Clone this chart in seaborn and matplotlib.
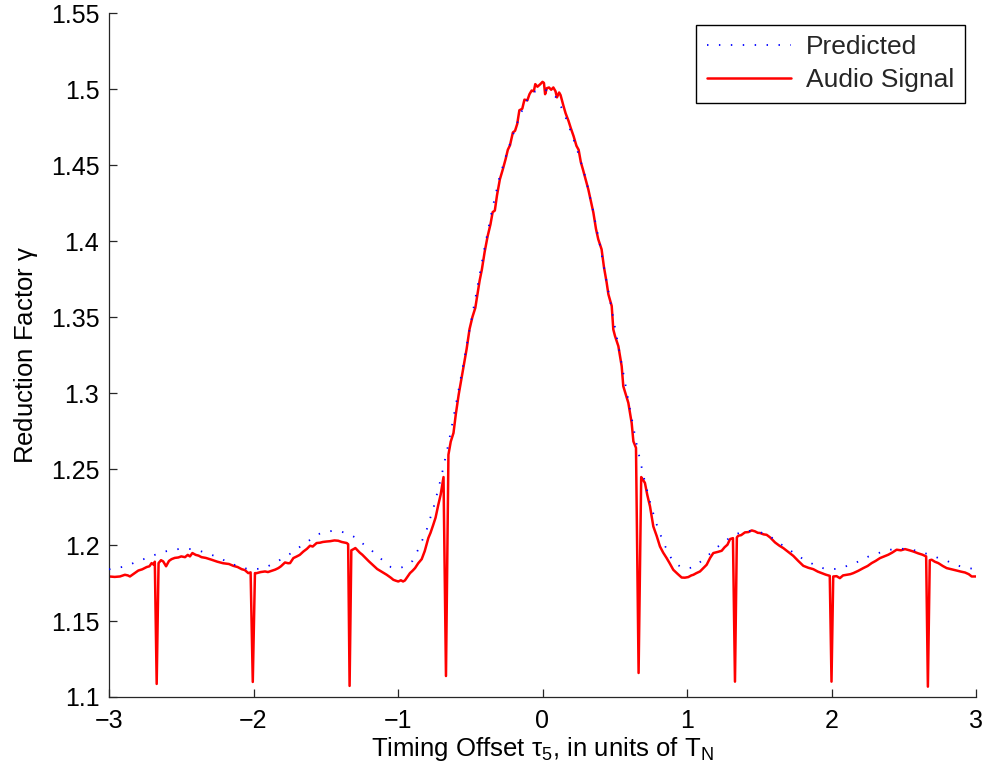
import numpy as np
import pandas as pd
import matplotlib
matplotlib.use("Agg")
import matplotlib.pyplot as plt
import seaborn as sns

# ---------------- data ----------------
pred_x = [round(-3 + 0.05 * i, 2) for i in range(121)]
pred_y = [
    1.184, 1.1848, 1.1857, 1.1873, 1.1895, 1.191, 1.193, 1.1945, 1.196, 1.197,
    1.1975, 1.1975, 1.1968, 1.1955, 1.1938, 1.1922, 1.1898, 1.1875, 1.186, 1.1845,
    1.184, 1.1845, 1.186, 1.1885, 1.191, 1.194, 1.1975, 1.2005, 1.204, 1.2072,
    1.2085, 1.2094, 1.209, 1.2075, 1.2052, 1.2013, 1.198, 1.1935, 1.1895, 1.1855,
    1.1845, 1.186, 1.1895, 1.199, 1.2105, 1.226, 1.245, 1.267, 1.292, 1.318,
    1.344, 1.370, 1.396, 1.420, 1.441, 1.457, 1.471, 1.484, 1.494, 1.4985,
    1.500,
    1.4985, 1.494, 1.484, 1.471, 1.457, 1.441, 1.420, 1.396, 1.370, 1.344,
    1.318, 1.292, 1.267, 1.245, 1.226, 1.2105, 1.199, 1.1895, 1.186, 1.1845,
    1.1855, 1.1895, 1.1935, 1.198, 1.2013, 1.2052, 1.2075, 1.209, 1.2094, 1.2085,
    1.2072, 1.204, 1.2005, 1.1975, 1.194, 1.191, 1.1885, 1.186, 1.1845, 1.184,
    1.1845, 1.186, 1.1875, 1.1898, 1.1922, 1.1938, 1.1955, 1.1968, 1.1975, 1.1975,
    1.197, 1.196, 1.1945, 1.193, 1.191, 1.1895, 1.1873, 1.1857, 1.1848, 1.184,
]

audio_x = [
    -3.000, -2.960, -2.924, -2.890, -2.870, -2.855, -2.830, -2.797, -2.770, -2.739,
    -2.720, -2.705, -2.690, -2.683, -2.670, -2.657, -2.640, -2.625, -2.605, -2.585,
    -2.567, -2.545, -2.520, -2.500, -2.474, -2.455, -2.440, -2.423, -2.400, -2.380,
    -2.360, -2.330, -2.290, -2.250, -2.210, -2.170, -2.140, -2.110, -2.082, -2.060,
    -2.036, -2.020, -2.005, -1.990, -1.978, -1.950, -1.920, -1.900, -1.874, -1.850,
    -1.828, -1.810, -1.782, -1.760, -1.747, -1.724, -1.700, -1.680, -1.655, -1.630,
    -1.609, -1.590, -1.563, -1.540, -1.520, -1.494, -1.470, -1.440, -1.414, -1.390,
    -1.355, -1.345, -1.335, -1.323, -1.309, -1.295, -1.280, -1.265, -1.247, -1.225,
    -1.201, -1.170, -1.144, -1.110, -1.078, -1.050, -1.032, -1.015, -0.998, -0.980,
    -0.965, -0.952, -0.935, -0.917, -0.900, -0.882, -0.860, -0.836, -0.815, -0.790,
    -0.775, -0.756, -0.740, -0.721, -0.705, -0.685, -0.668, -0.651, -0.635, -0.616,
    -0.600, -0.580, -0.560, -0.545, -0.525, -0.505, -0.485, -0.465, -0.450, -0.435,
    -0.420, -0.400, -0.380, -0.360, -0.345, -0.330, -0.315, -0.295, -0.275, -0.255,
    -0.240, -0.225, -0.205, -0.190, -0.175, -0.160, -0.140, -0.125, -0.105, -0.090,
    -0.075, -0.060, -0.050, -0.035, -0.015, 0.000, 0.010, 0.018, 0.030, 0.045,
    0.060, 0.075, 0.090, 0.100, 0.115, 0.125, 0.145, 0.160, 0.180, 0.195,
    0.215, 0.235, 0.250, 0.265, 0.280, 0.300, 0.317, 0.335, 0.352, 0.370,
    0.386, 0.409, 0.425, 0.444, 0.456, 0.479, 0.490, 0.502, 0.525, 0.548,
    0.559, 0.594, 0.617, 0.629, 0.647, 0.665, 0.683, 0.695, 0.709, 0.725,
    0.744, 0.767, 0.790, 0.813, 0.835, 0.859, 0.880, 0.905, 0.935, 0.963,
    0.985, 1.009, 1.030, 1.044, 1.065, 1.090, 1.110, 1.136, 1.160, 1.182,
    1.215, 1.240, 1.260, 1.280, 1.298, 1.318, 1.332, 1.345, 1.355, 1.375,
    1.401, 1.425, 1.448, 1.470, 1.490, 1.505, 1.530, 1.551, 1.575, 1.609,
    1.640, 1.666, 1.700, 1.735, 1.770, 1.805, 1.840, 1.874, 1.905, 1.932,
    1.960, 1.988, 2.000, 2.012, 2.035, 2.058, 2.080, 2.105, 2.130, 2.151,
    2.185, 2.220, 2.250, 2.278, 2.305, 2.336, 2.365, 2.393, 2.420, 2.451,
    2.480, 2.509, 2.540, 2.567, 2.600, 2.630, 2.655, 2.667, 2.680, 2.693,
    2.715, 2.739, 2.770, 2.797, 2.830, 2.866, 2.895, 2.924, 2.950, 2.970,
    3.000,
]
audio_y = [
    1.1793, 1.1790, 1.1793, 1.1804, 1.1800, 1.1793, 1.1810, 1.1832, 1.1840, 1.1855,
    1.1860, 1.1881, 1.1870, 1.1890, 1.1086, 1.1881, 1.1900, 1.1892, 1.1860, 1.1895,
    1.1907, 1.1915, 1.1918, 1.1925, 1.1920, 1.1935, 1.1925, 1.1947, 1.1935, 1.1930,
    1.1920, 1.1915, 1.1903, 1.1890, 1.1880, 1.1875, 1.1863, 1.1855, 1.1841, 1.1835,
    1.1815, 1.1820, 1.1099, 1.1815, 1.1815, 1.1822, 1.1826, 1.1822, 1.1830, 1.1838,
    1.1848, 1.1860, 1.1885, 1.1880, 1.1881, 1.1914, 1.1925, 1.1935, 1.1957, 1.1975,
    1.1995, 1.1990, 1.2013, 1.2015, 1.2020, 1.2023, 1.2025, 1.2030, 1.2028, 1.2020,
    1.2013, 1.2005, 1.1073, 1.1965, 1.1972, 1.1980, 1.1965, 1.1950, 1.1936, 1.1915,
    1.1892, 1.1865, 1.1842, 1.1822, 1.1804, 1.1785, 1.1771, 1.1765, 1.1760, 1.1768,
    1.1760, 1.1767, 1.1790, 1.1815, 1.1830, 1.1848, 1.1880, 1.1907, 1.1960, 1.2046,
    1.2080, 1.2133, 1.2180, 1.2265, 1.2330, 1.2447, 1.1138, 1.2594, 1.2680, 1.2737,
    1.2860, 1.2990, 1.3100, 1.3185, 1.3290, 1.3420, 1.3500, 1.3560, 1.3650, 1.3740,
    1.3810, 1.3930, 1.4030, 1.4110, 1.4190, 1.4200, 1.4300, 1.4406, 1.4470, 1.4540,
    1.4600, 1.4630, 1.4714, 1.4725, 1.4770, 1.4860, 1.4870, 1.4930, 1.4925, 1.4966,
    1.4990, 1.4985, 1.5032, 1.5015, 1.5032, 1.5047, 1.5040, 1.4966, 1.5005, 1.5010,
    1.4995, 1.5010, 1.4985, 1.4945, 1.4977, 1.4960, 1.4889, 1.4840, 1.4790, 1.4745,
    1.4690, 1.4626, 1.4600, 1.4520, 1.4470, 1.4400, 1.4340, 1.4260, 1.4187, 1.4080,
    1.4011, 1.3945, 1.3830, 1.3726, 1.3649, 1.3572, 1.3418, 1.3374, 1.3308, 1.3176,
    1.3045, 1.2935, 1.2803, 1.2682, 1.2639, 1.1158, 1.2447, 1.2430, 1.2408, 1.2330,
    1.2254, 1.2122, 1.2060, 1.1990, 1.1950, 1.1914, 1.1880, 1.1837, 1.1810, 1.1786,
    1.1785, 1.1789, 1.1800, 1.1804, 1.1815, 1.1826, 1.1845, 1.1870, 1.1915, 1.1947,
    1.1955, 1.1962, 1.1985, 1.2002, 1.2039, 1.2045, 1.1101, 1.2050, 1.2061, 1.2065,
    1.2083, 1.2085, 1.2096, 1.2090, 1.2080, 1.2079, 1.2070, 1.2067, 1.2050, 1.2017,
    1.1995, 1.1980, 1.1955, 1.1929, 1.1895, 1.1863, 1.1850, 1.1841, 1.1825, 1.1815,
    1.1805, 1.1797, 1.1101, 1.1793, 1.1795, 1.1782, 1.1800, 1.1804, 1.1808, 1.1815,
    1.1830, 1.1848, 1.1862, 1.1881, 1.1895, 1.1914, 1.1925, 1.1936, 1.1950, 1.1969,
    1.1965, 1.1973, 1.1965, 1.1957, 1.1945, 1.1936, 1.1925, 1.1068, 1.1900, 1.1903,
    1.1890, 1.1881, 1.1862, 1.1848, 1.1840, 1.1832, 1.1825, 1.1819, 1.1808, 1.1793,
    1.1793,
]

x_ticks = [-3, -2, -1, 0, 1, 2, 3]
x_tick_labels = ["\u22123", "\u22122", "\u22121", "0", "1", "2", "3"]
y_ticks = [1.1, 1.15, 1.2, 1.25, 1.3, 1.35, 1.4, 1.45, 1.5, 1.55]
y_tick_labels = ["1.1", "1.15", "1.2", "1.25", "1.3", "1.35", "1.4", "1.45", "1.5", "1.55"]

series_names = ["Predicted", "Audio Signal"]
x_label = r"Timing Offset $\mathregular{\tau_5}$, in units of $\mathregular{T_N}$"
y_label = r"Reduction Factor $\mathregular{\gamma}$"

# ---------------- style ----------------
sns.set_theme(style="white")
plt.rcParams["font.family"] = ["Liberation Sans", "DejaVu Sans"]
plt.rcParams["mathtext.fontset"] = "custom"
plt.rcParams["mathtext.rm"] = "Liberation Sans"
plt.rcParams["mathtext.it"] = "Liberation Sans:italic"
plt.rcParams["axes.unicode_minus"] = True

FS = 18

fig = plt.figure(figsize=(9.86, 7.78), dpi=100)
ax = fig.add_axes([109 / 986, 81 / 778, 867 / 986, 684 / 778])

pred_df = pd.DataFrame({"x": pred_x, "y": pred_y})
audio_df = pd.DataFrame({"x": audio_x, "y": audio_y})

sns.lineplot(data=audio_df, x="x", y="y", ax=ax, color="#ff0000", linewidth=1.8,
             estimator=None, sort=False, label=series_names[1], zorder=2)
sns.lineplot(data=pred_df, x="x", y="y", ax=ax, color="#0000ff", linewidth=1.3,
             linestyle=(0, (0.8, 5.8)), estimator=None, sort=False,
             label=series_names[0], zorder=3)

ax.set_xlim(-3, 3)
ax.set_ylim(1.1, 1.55)
ax.set_xticks(x_ticks)
ax.set_xticklabels(x_tick_labels)
ax.set_yticks(y_ticks)
ax.set_yticklabels(y_tick_labels)

for s in ["top", "right"]:
    ax.spines[s].set_visible(False)
for s in ["left", "bottom"]:
    ax.spines[s].set_color("#262626")
    ax.spines[s].set_linewidth(0.9)

ax.tick_params(axis="both", which="major", direction="in", length=6, width=0.9,
               color="#262626", labelsize=FS, labelcolor="black", pad=7,
               bottom=True, left=True, top=False, right=False)
ax.tick_params(axis="x", pad=9)

ax.set_xlabel(x_label, fontsize=18.5, color="black", labelpad=1)
ax.set_ylabel(y_label, fontsize=18.5, color="black", labelpad=8)
ax.grid(False)

handles, labels = ax.get_legend_handles_labels()
order = [labels.index(n) for n in series_names]
leg = ax.legend([handles[i] for i in order], [labels[i] for i in order],
                loc="upper right", bbox_to_anchor=(0.987, 0.983), fontsize=19,
                frameon=True, fancybox=False, edgecolor="black",
                handlelength=3.2, handletextpad=0.55, labelspacing=0.35,
                borderpad=0.4, borderaxespad=0.0)
leg.get_frame().set_linewidth(1.0)
leg.get_frame().set_alpha(1)

fig.savefig("out.png", dpi=100, facecolor="white")
